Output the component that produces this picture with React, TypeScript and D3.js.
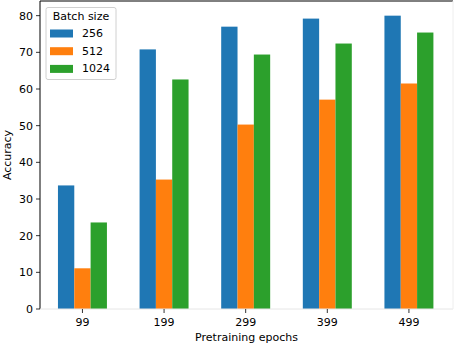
import React from "react";
import * as d3 from "d3";

const categories = ["99", "199", "299", "399", "499"];
const seriesNames = ["256", "512", "1024"];
const values256 = [33.7, 70.8, 77.0, 79.2, 80.0];
const values512 = [11.1, 35.3, 50.3, 57.1, 61.5];
const values1024 = [23.6, 62.6, 69.4, 72.4, 75.4];
const yTicks = [0, 10, 20, 30, 40, 50, 60, 70, 80];
const colors = ["#1f77b4", "#ff7f0e", "#2ca02c"];

const W = 454, H = 344;
const L = 40, R = 453, T = 1, B = 309;
const FONT = "DejaVu Sans, sans-serif";

export default function App() {
  const series = [values256, values512, values1024];
  const x = d3.scaleLinear().domain([-0.52, 4.54]).range([L, R]);
  const y = d3.scaleLinear().domain([0, 84]).range([B, T]);
  const bw = 0.2;
  return (
    <svg width={W} height={H} style={{ position: "absolute", left: 0, top: 0, background: "#fff" }}
      fontFamily={FONT}>
      {series.map((vals, si) =>
        vals.map((v, ci) => {
          const x0 = x(ci + (si - 1) * bw - bw / 2);
          const x1 = x(ci + (si - 1) * bw + bw / 2);
          return <rect key={`${si}-${ci}`} x={x0} y={y(v)} width={x1 - x0} height={y(0) - y(v)} fill={colors[si]} />;
        })
      )}
      {/* spines */}
      <line x1={L} x2={R} y1={T} y2={T} stroke="#000" strokeWidth={1} />
      <line x1={L} x2={L} y1={T} y2={B} stroke="#000" strokeWidth={1} />
      <line x1={L} x2={R} y1={B} y2={B} stroke="#e6e6e6" strokeWidth={1} />
      <line x1={R} x2={R} y1={T} y2={B} stroke="#eeeeee" strokeWidth={1} />
      {/* y ticks */}
      {yTicks.map((t) => (
        <g key={t}>
          <line x1={L - 4} x2={L} y1={y(t)} y2={y(t)} stroke="#000" strokeWidth={0.8} />
          <text x={L - 7} y={y(t)} dy="0.35em" textAnchor="end" fontSize={11} fill="#000">{t}</text>
        </g>
      ))}
      {/* x ticks */}
      {categories.map((c, i) => (
        <g key={c}>
          <line x1={x(i)} x2={x(i)} y1={B} y2={B + 4} stroke="#000" strokeWidth={0.8} />
          <text x={x(i)} y={B + 17} textAnchor="middle" fontSize={11} fill="#000">{c}</text>
        </g>
      ))}
      <text x={(L + R) / 2} y={341} textAnchor="middle" fontSize={11} fill="#000">Pretraining epochs</text>
      <text transform={`translate(11,${(T + B) / 2}) rotate(-90)`} textAnchor="middle" fontSize={11} fill="#000">Accuracy</text>
      {/* legend */}
      <g>
        <rect x={46} y={7.5} width={70} height={72} rx={2} fill="#fff" fillOpacity={0.8} stroke="#d0d0d0" strokeWidth={1} />
        <text x={81} y={20} textAnchor="middle" fontSize={11} fill="#000">Batch size</text>
        {seriesNames.map((n, i) => (
          <g key={n}>
            <rect x={50} y={29.5 + i * 17.7} width={23} height={8} fill={colors[i]} />
            <text x={82} y={37 + i * 17.7} fontSize={11} fill="#000">{n}</text>
          </g>
        ))}
      </g>
    </svg>
  );
}
